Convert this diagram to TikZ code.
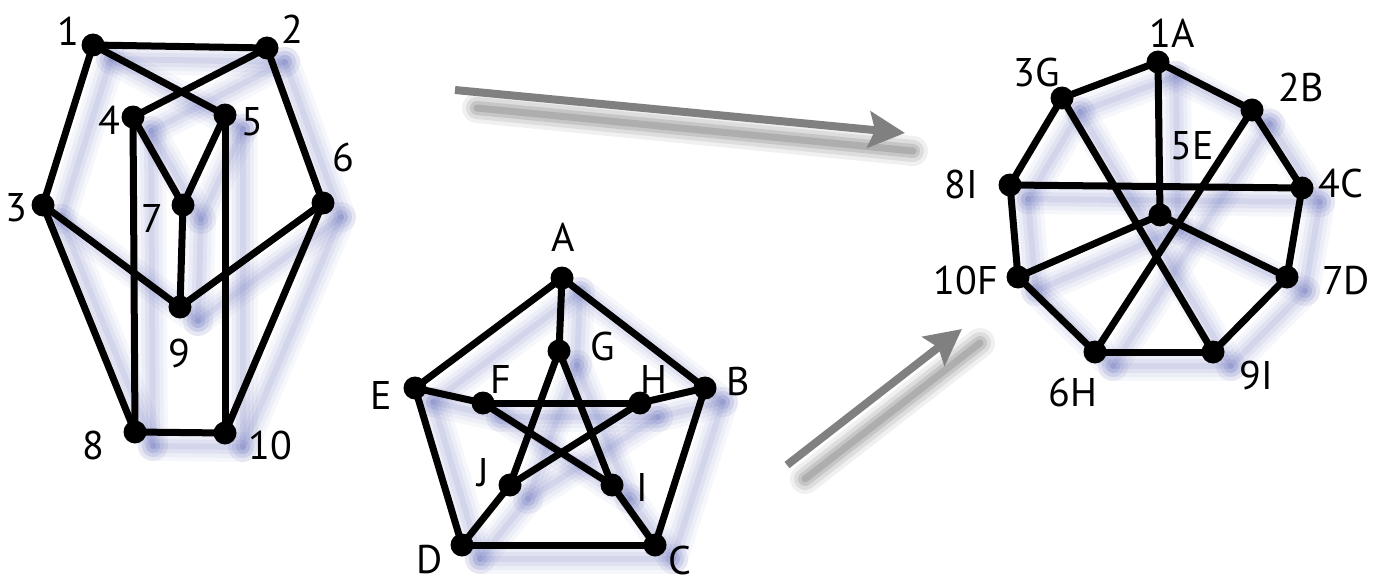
\documentclass[tikz,border=0pt]{standalone}
\usepackage{fontspec}
\setmainfont{PT Sans}
\usetikzlibrary{arrows.meta,backgrounds}
\definecolor{shadowblue}{RGB}{80,90,175}
\definecolor{arrowgray}{RGB}{128,128,128}
\begin{document}
\begin{tikzpicture}[x=1pt,y=-1pt,
  dot/.style={circle,fill=black,inner sep=0pt,minimum size=23pt},
  lab/.style={inner sep=0pt,font=\fontsize{40}{46}\selectfont},
  edge/.style={line width=7pt},
  bigarrow/.style={draw=arrowgray,line width=8pt,-{Stealth[length=36pt,width=36pt,inset=6pt]}},
  ]
\useasboundingbox (0,0) rectangle (1385,586);

% ---------- left graph ----------
\foreach \n/\x/\y in {1/93/45,2/267/48,3/43/205,4/133/117,5/225/115,6/323/203,7/183/205,8/135/432,9/180/307,10/225/433}
  \node[dot] (p\n) at (\x,\y) {};
\node[lab] (lp1) at (68,31) {1};
\node[lab] (lp2) at (292,29) {2};
\node[lab] (lp3) at (16,208) {3};
\node[lab] (lp4) at (109,120) {4};
\node[lab] (lp5) at (252,122) {5};
\node[lab] (lp6) at (343,157) {6};
\node[lab] (lp7) at (152,218) {7};
\node[lab] (lp8) at (93,445) {8};
\node[lab] (lp9) at (179,353) {9};
\node[lab] (lp10) at (270,445) {10};

% ---------- middle graph ----------
\foreach \n/\x/\y in {A/562/278,B/705/388,C/655/545,D/462/545,E/415/388,F/483/403,G/559/351,H/640/403,I/612/485,J/510/485}
  \node[dot] (m\n) at (\x,\y) {};
\node[lab] (lmA) at (563,237) {A};
\node[lab] (lmB) at (738,381) {B};
\node[lab] (lmC) at (680,560) {C};
\node[lab] (lmD) at (430,560) {D};
\node[lab] (lmE) at (381,395) {E};
\node[lab] (lmF) at (501,379) {F};
\node[lab] (lmG) at (603,346) {G};
\node[lab] (lmH) at (654,379) {H};
\node[lab] (lmI) at (642,487) {I};
\node[lab] (lmJ) at (483,473) {J};

% ---------- right graph ----------
\foreach \n/\x/\y in {1A/1158/62,2B/1252/110,3G/1062/98,4C/1302/188,5E/1160/215,6H/1095/352,7D/1287/277,8I/1010/185,9I/1213/352,10F/1018/277}
  \node[dot] (r\n) at (\x,\y) {};
\node[lab] (lr1A) at (1172,33) {1A};
\node[lab] (lr2B) at (1301,87) {2B};
\node[lab] (lr3G) at (1037,72) {3G};
\node[lab] (lr4C) at (1341,183) {4C};
\node[lab] (lr5E) at (1192,146) {5E};
\node[lab] (lr6H) at (1073,392) {6H};
\node[lab] (lr7D) at (1346,281) {7D};
\node[lab] (lr8I) at (961,184) {8I};
\node[lab] (lr9I) at (1256,375) {9I};
\node[lab] (lr10F) at (966,280) {10F};

% ---------- arrows ----------
\coordinate (a1s) at (455,90);
\coordinate (a1e) at (905,133);
\coordinate (a2s) at (787,465);
\coordinate (a2e) at (962,329);

% ---------- shadows ----------
\begin{scope}[on background layer]
  \foreach \w/\o in {30/0.05,22/0.06,14/0.08,6/0.09}{
    \foreach \a/\b in {p1/p2,p1/p5,p2/p4,p1/p3,p2/p6,p4/p7,p5/p7,p4/p8,p5/p10,p7/p9,p3/p9,p6/p9,p3/p8,p6/p10,p8/p10,
      mA/mE,mA/mB,mA/mG,mE/mF,mF/mH,mH/mB,mE/mD,mB/mC,mD/mC,mG/mJ,mG/mI,mF/mI,mH/mJ,mJ/mD,mI/mC,
      r1A/r3G,r1A/r2B,r1A/r5E,r2B/r4C,r3G/r8I,r8I/r4C,r8I/r10F,r4C/r7D,r10F/r6H,r7D/r9I,r6H/r9I,r3G/r9I,r2B/r6H,r5E/r10F,r5E/r7D}
      \draw[shadowblue,opacity=\o,line width=\w pt,line cap=round]
        ([shift={(18,14)}]\a.center) -- ([shift={(18,14)}]\b.center);
  }
  \foreach \w/\o in {30/0.06,22/0.08,14/0.10,7/0.12}{
    \draw[black,opacity=\o,line width=\w pt,line cap=round]
      ([shift={(22,18)}]a1s) -- ([shift={(8,18)}]a1e);
    \draw[black,opacity=\o,line width=\w pt,line cap=round]
      ([shift={(18,14)}]a2s) -- ([shift={(18,14)}]a2e);
  }
\end{scope}

% ---------- edges ----------
\foreach \a/\b in {p1/p2,p1/p5,p2/p4,p1/p3,p2/p6,p4/p7,p5/p7,p4/p8,p5/p10,p7/p9,p3/p9,p6/p9,p3/p8,p6/p10,p8/p10}
  \draw[edge] (\a.center) -- (\b.center);
\foreach \a/\b in {mA/mE,mA/mB,mA/mG,mE/mF,mF/mH,mH/mB,mE/mD,mB/mC,mD/mC,mG/mJ,mG/mI,mF/mI,mH/mJ,mJ/mD,mI/mC}
  \draw[edge] (\a.center) -- (\b.center);
\foreach \a/\b in {r1A/r3G,r1A/r2B,r1A/r5E,r2B/r4C,r3G/r8I,r8I/r4C,r8I/r10F,r4C/r7D,r10F/r6H,r7D/r9I,r6H/r9I,r3G/r9I,r2B/r6H,r5E/r10F,r5E/r7D}
  \draw[edge] (\a.center) -- (\b.center);

\draw[bigarrow] (a1s) -- (a1e);
\draw[bigarrow] (a2s) -- (a2e);
\end{tikzpicture}
\end{document}
